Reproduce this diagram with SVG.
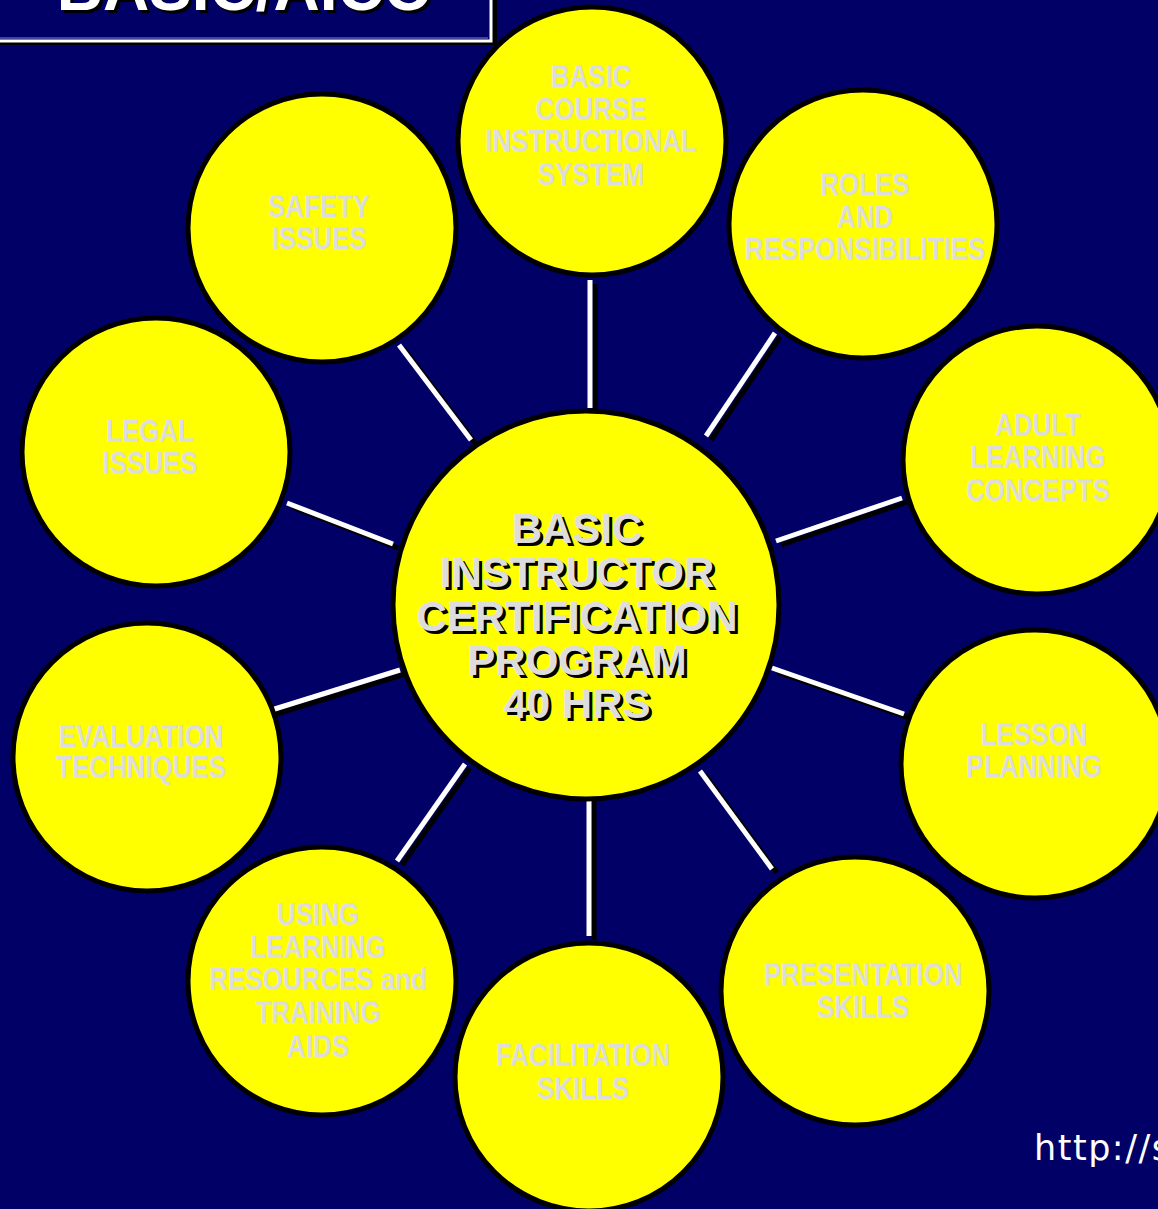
<svg xmlns="http://www.w3.org/2000/svg" width="1158" height="1209" viewBox="0 0 1158 1209">
<style>
.bg{fill:#000066}
.node{fill:#ffff00;stroke:#000;stroke-width:5}
.lbl{font-family:"Liberation Sans",Arial,sans-serif;font-weight:bold;font-size:32px;fill:#dddddd;text-anchor:middle}
.big{font-family:"Liberation Sans",Arial,sans-serif;font-weight:bold;font-size:42px;text-anchor:middle}
.ln{stroke:#fff;stroke-width:5;fill:none}
.sh{stroke:#000;stroke-width:5;fill:none}
</style>
<rect class="bg" x="0" y="0" width="1158" height="1209"/>
<g id="title">
<rect x="-10" y="-10" width="507" height="55" fill="#000"/>
<rect x="-10" y="-10" width="501" height="51" fill="#000066" stroke="#fff" stroke-width="3"/>
<line x1="-10" y1="38" x2="488" y2="38" stroke="#8888cc" stroke-width="1"/>
<text x="433" y="13" font-family="Liberation Sans,Arial,sans-serif" font-weight="bold" font-size="64" text-anchor="end" fill="#000">BASIC/AICC</text>
<text x="430" y="10" font-family="Liberation Sans,Arial,sans-serif" font-weight="bold" font-size="64" text-anchor="end" fill="#fff">BASIC/AICC</text>
</g>
<g id="connectors">
<g transform="translate(5,4)">
<line class="sh" x1="590" y1="280" x2="590" y2="408"/>
<line class="sh" x1="775" y1="333" x2="706" y2="436"/>
<line class="sh" x1="902" y1="498" x2="776" y2="541"/>
<line class="sh" x1="772" y1="668" x2="904" y2="714"/>
<line class="sh" x1="700" y1="771" x2="772" y2="869"/>
<line class="sh" x1="589" y1="795" x2="589" y2="936"/>
<line class="sh" x1="465" y1="764" x2="397" y2="861"/>
<line class="sh" x1="400" y1="670" x2="265" y2="712"/>
<line class="sh" x1="287" y1="503" x2="393" y2="544"/>
<line class="sh" x1="399" y1="345" x2="471" y2="440"/>
</g>
<line class="ln" x1="590" y1="280" x2="590" y2="408"/>
<line class="ln" x1="775" y1="333" x2="706" y2="436"/>
<line class="ln" x1="902" y1="498" x2="776" y2="541"/>
<line class="ln" x1="772" y1="668" x2="904" y2="714"/>
<line class="ln" x1="700" y1="771" x2="772" y2="869"/>
<line class="ln" x1="589" y1="795" x2="589" y2="936"/>
<line class="ln" x1="465" y1="764" x2="397" y2="861"/>
<line class="ln" x1="400" y1="670" x2="265" y2="712"/>
<line class="ln" x1="287" y1="503" x2="393" y2="544"/>
<line class="ln" x1="399" y1="345" x2="471" y2="440"/>
</g>
<g id="center">
<ellipse class="node" cx="586" cy="605" rx="193" ry="194"/>
<g class="big">
<g fill="#000" transform="translate(3,3)">
<text x="577" y="543">BASIC</text>
<text x="577" y="587">INSTRUCTOR</text>
<text x="577" y="631">CERTIFICATION</text>
<text x="577" y="675">PROGRAM</text>
<text x="577" y="718">40 HRS</text>
</g>
<g fill="#dddddd">
<text x="577" y="543">BASIC</text>
<text x="577" y="587">INSTRUCTOR</text>
<text x="577" y="631">CERTIFICATION</text>
<text x="577" y="675">PROGRAM</text>
<text x="577" y="718">40 HRS</text>
</g>
</g>
</g>
<g id="n-basic-course">
<circle class="node" cx="592" cy="141" r="134"/>
<g transform="translate(591,0) scale(0.81,1)"><text class="lbl"><tspan x="0" y="87">BASIC</tspan><tspan x="0" y="120">COURSE</tspan><tspan x="0" y="152">INSTRUCTIONAL</tspan><tspan x="0" y="185">SYSTEM</tspan></text></g>
</g>
<g id="n-roles">
<circle class="node" cx="863" cy="224" r="134"/>
<g transform="translate(865,0) scale(0.81,1)"><text class="lbl"><tspan x="0" y="195">ROLES</tspan><tspan x="0" y="228">AND</tspan><tspan x="0" y="260">RESPONSIBILITIES</tspan></text></g>
</g>
<g id="n-adult">
<circle class="node" cx="1037" cy="460" r="134"/>
<g transform="translate(1038,0) scale(0.81,1)"><text class="lbl"><tspan x="0" y="436">ADULT</tspan><tspan x="0" y="468">LEARNING</tspan><tspan x="0" y="501">CONCEPTS</tspan></text></g>
</g>
<g id="n-lesson">
<circle class="node" cx="1035" cy="764" r="134"/>
<g transform="translate(1034,0) scale(0.81,1)"><text class="lbl"><tspan x="0" y="745">LESSON</tspan><tspan x="0" y="777">PLANNING</tspan></text></g>
</g>
<g id="n-presentation">
<circle class="node" cx="855" cy="991" r="134"/>
<g transform="translate(863,0) scale(0.81,1)"><text class="lbl"><tspan x="0" y="985">PRESENTATION</tspan><tspan x="0" y="1018">SKILLS</tspan></text></g>
</g>
<g id="n-facilitation">
<circle class="node" cx="589" cy="1077" r="134"/>
<g transform="translate(583,0) scale(0.81,1)"><text class="lbl"><tspan x="0" y="1066">FACILITATION</tspan><tspan x="0" y="1099">SKILLS</tspan></text></g>
</g>
<g id="n-using">
<circle class="node" cx="322" cy="981" r="134"/>
<g transform="translate(318,0) scale(0.81,1)"><text class="lbl"><tspan x="0" y="925">USING</tspan><tspan x="0" y="958">LEARNING</tspan><tspan x="0" y="990">RESOURCES and</tspan><tspan x="0" y="1023">TRAINING</tspan><tspan x="0" y="1057">AIDS</tspan></text></g>
</g>
<g id="n-evaluation">
<circle class="node" cx="147" cy="757" r="134"/>
<g transform="translate(141,0) scale(0.81,1)"><text class="lbl"><tspan x="0" y="747">EVALUATION</tspan><tspan x="0" y="778">TECHNIQUES</tspan></text></g>
</g>
<g id="n-legal">
<circle class="node" cx="156" cy="452" r="134"/>
<g transform="translate(150,0) scale(0.81,1)"><text class="lbl"><tspan x="0" y="442">LEGAL</tspan><tspan x="0" y="474">ISSUES</tspan></text></g>
</g>
<g id="n-safety">
<circle class="node" cx="322" cy="228" r="134"/>
<g transform="translate(319,0) scale(0.81,1)"><text class="lbl"><tspan x="0" y="217">SAFETY</tspan><tspan x="0" y="249">ISSUES</tspan></text></g>
</g>
<text x="1034" y="1160" font-family="DejaVu Sans,Verdana,sans-serif" font-size="35" letter-spacing="1.5" fill="#fff">http://s</text>
</svg>
